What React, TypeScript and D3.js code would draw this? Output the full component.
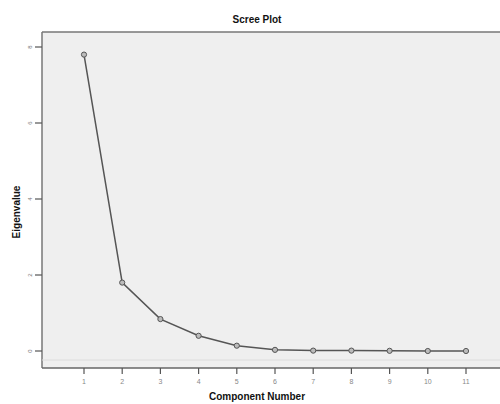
import React from "react";
import * as d3 from "d3";

const components = [1, 2, 3, 4, 5, 6, 7, 8, 9, 10, 11];
const eigenvalues = [7.8, 1.8, 0.84, 0.4, 0.14, 0.03, 0.01, 0.01, 0.005, 0.0, 0.0];
const yTicks = [0, 2, 4, 6, 8];

export default function App() {
  const W = 500, H = 404;
  const left = 42, top = 32, bottom = 368;
  const x = d3.scaleLinear().domain([1, 11]).range([84, 466]);
  const y = d3.scaleLinear().domain([0, 8]).range([351, 47]);
  const line = d3.line<number>().x((_, i) => x(components[i])).y((d) => y(d));
  const font = "Arial, 'Liberation Sans', sans-serif";
  return (
    <svg width={W} height={H} style={{ position: "absolute", left: 0, top: 0 }} fontFamily={font}>
      <rect x={0} y={0} width={W} height={H} fill="#ffffff" />
      <rect x={left} y={top} width={W - left} height={bottom - top} fill="#efefef" />
      <line x1={left} x2={W} y1={top} y2={top} stroke="#777" strokeWidth={1.5} />
      <line x1={left} x2={left} y1={top} y2={bottom} stroke="#777" strokeWidth={1.5} />
      <line x1={left} x2={W} y1={360} y2={360} stroke="#dcdcdc" strokeWidth={1} />
      <line x1={left} x2={W} y1={bottom} y2={bottom} stroke="#666" strokeWidth={1.5} />
      {yTicks.map((t) => (
        <g key={t}>
          <line x1={35} x2={left} y1={y(t)} y2={y(t)} stroke="#555" strokeWidth={1.2} />
          <text x={32} y={y(t)} fontSize={6} fill="#777" textAnchor="middle" transform={`rotate(-90 32 ${y(t)})`}>{t}</text>
        </g>
      ))}
      {components.map((c) => (
        <g key={c}>
          <line x1={x(c)} x2={x(c)} y1={bottom} y2={bottom + 6} stroke="#555" strokeWidth={1.2} />
          <text x={x(c)} y={bottom + 16} fontSize={7} fill="#888" textAnchor="middle">{c}</text>
        </g>
      ))}
      <path d={line(eigenvalues) || ""} fill="none" stroke="#555" strokeWidth={1.5} />
      {eigenvalues.map((v, i) => (
        <circle key={i} cx={x(components[i])} cy={y(v)} r={2.6} fill="#bbb" stroke="#555" strokeWidth={1} />
      ))}
      <text x={257} y={23} fontSize={10} fontWeight="bold" textAnchor="middle" fill="#111">Scree Plot</text>
      <text x={257} y={400} fontSize={10} fontWeight="bold" textAnchor="middle" fill="#111">Component Number</text>
      <text x={20} y={212} fontSize={10} fontWeight="bold" textAnchor="middle" fill="#111" transform="rotate(-90 20 212)">Eigenvalue</text>
    </svg>
  );
}
